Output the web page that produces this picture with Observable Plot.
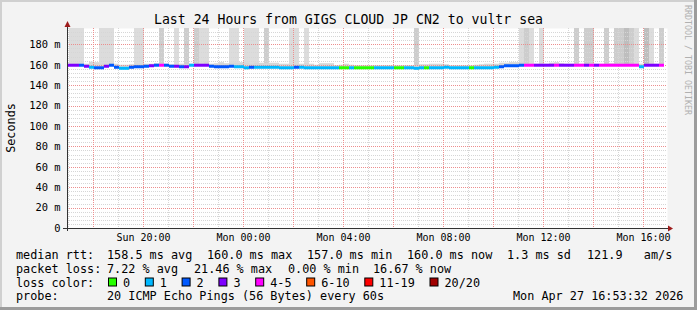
<!DOCTYPE html>
<html>
<head>
<meta charset="utf-8">
<script src="https://cdn.jsdelivr.net/npm/d3@7"></script>
<script src="https://cdn.jsdelivr.net/npm/@observablehq/plot@0.6"></script>
<style>
  html, body { margin: 0; padding: 0; background: #f3f3f3; }
  svg { display: block; }
</style>
</head>
<body>
<div id="chart"></div>
<script>
// ---------------- data (hours since Sunday 00:00) ----------------
const title = "Last 24 Hours from GIGS CLOUD JP CN2 to vultr sea";
const yAxisTitle = "Seconds";
const watermark = "RRDTOOL / TOBI OETIKER";

const timeDomain = [16.96, 40.96];      // Sun 16:57 .. Mon 16:57
const firstStep = 16.84;                // start of first (partial) 12-minute step
const stepHours = 0.2;

const xTickHours = [20, 24, 28, 32, 36, 40];
const xTickLabels = ["Sun 20:00", "Mon 00:00", "Mon 04:00", "Mon 08:00", "Mon 12:00", "Mon 16:00"];
const yTickValues = [0, 20, 40, 60, 80, 100, 120, 140, 160, 180];
const yTickLabels = ["0", "20 m", "40 m", "60 m", "80 m", "100 m", "120 m", "140 m", "160 m", "180 m"];
const yMax = 196;

// median rtt (ms) per 12-minute step
const medianRtt = [
  160, 160, 160, 160, 159, 158, 157.5, 157.5, 159, 160,
  158, 157, 157, 158, 158.5, 158.5, 159, 159.5, 160, 160,
  160, 159, 159, 158.5, 158.5, 160, 160, 160, 160, 159,
  158.5, 158.5, 158.5, 159, 158.5, 158.5, 157.5, 158, 158, 158,
  158, 158, 158, 157.5, 157.5, 157.5, 158, 158, 157.5, 157.5,
  157.5, 157.5, 157.5, 157.5, 157.5, 157.5, 157.5, 157.5, 157.5, 157.5,
  157.5, 157.5, 157.5, 157.5, 157.5, 157.5, 157.5, 157.5, 157.5, 157.5,
  157, 157.5, 157.5, 157.5, 157.5, 157.5, 158, 157.5, 157.5, 157.5,
  157.5, 157.5, 157.5, 157.5, 157.5, 157.5, 158, 158.5, 159.5, 159.5,
  159.5, 160, 160, 160, 160, 160, 160, 160, 160, 160,
  160, 160, 160, 160, 160, 160, 160, 160, 160, 160,
  160, 160, 160, 160, 160, 158.5, 160, 160, 160, 160
];
// loss class per step (index into lossColors)
const lossClass = [
  3, 3, 3, 2, 3, 1, 2, 2, 3, 2,
  2, 1, 1, 2, 2, 2, 2, 3, 2, 4,
  2, 2, 3, 2, 3, 1, 3, 3, 3, 2,
  2, 2, 2, 2, 1, 1, 1, 2, 1, 1,
  1, 1, 1, 1, 1, 1, 2, 1, 1, 1,
  1, 1, 1, 1, 1, 0, 0, 1, 0, 0,
  0, 0, 1, 1, 1, 1, 0, 0, 1, 1,
  1, 1, 0, 1, 1, 1, 1, 1, 1, 1,
  1, 0, 1, 1, 1, 1, 1, 2, 2, 2,
  2, 2, 4, 4, 3, 3, 3, 3, 4, 3,
  3, 3, 4, 4, 3, 4, 3, 4, 4, 4,
  4, 4, 4, 4, 4, 1, 3, 3, 3, 4
];
// smoke reaching the top of the graph (0 none, 1 light, 2 medium, 3 dark)
const tallSmoke = [
  0, 1, 1, 1, 0, 0, 0, 1, 1, 1,
  0, 0, 0, 0, 1, 1, 0, 0, 0, 2,
  0, 0, 1, 0, 2, 0, 2, 1, 1, 0,
  0, 0, 0, 1, 1, 0, 1, 1, 1, 0,
  2, 0, 0, 0, 0, 1, 1, 0, 1, 0,
  0, 0, 0, 0, 0, 0, 0, 0, 0, 0,
  0, 0, 0, 0, 0, 0, 0, 0, 0, 0,
  2, 0, 0, 0, 0, 0, 0, 0, 0, 0,
  0, 0, 0, 0, 0, 0, 0, 0, 0, 0,
  0, 1, 2, 1, 0, 1, 0, 0, 0, 0,
  0, 0, 2, 0, 2, 2, 0, 0, 2, 0,
  2, 2, 3, 2, 1, 0, 3, 1, 0, 2
];
// upper edge of the near-median smoke (ms)
const smokeHigh = [
  161, 161, 161, 161, 161, 163, 162.5, 161, 161, 161,
  161, 160, 160, 160.5, 161, 161, 161, 161, 161.5, 161,
  161, 160.5, 160.5, 161, 160.5, 161, 161, 161, 163, 161,
  161.5, 162.5, 161.5, 162, 162, 162.5, 162, 161, 162, 162,
  161.5, 162, 162, 161, 161, 161, 161, 161, 161.5, 161,
  160, 161.5, 161.5, 161.5, 159.5, 160, 161, 160, 159.5, 159.5,
  159.5, 159.5, 159.5, 159.5, 159.5, 159.5, 159.5, 159.5, 159.5, 159.5,
  159.5, 160.5, 160.5, 161, 161, 161, 160.5, 159.5, 159.5, 159.5,
  159.5, 159.5, 160, 160.5, 161, 161, 161, 162, 162, 162.5,
  162.5, 162.5, 161, 161, 161, 161, 161, 162, 162.5, 161.5,
  161, 161, 161, 161, 161, 161.5, 161, 161, 161, 161.5,
  161, 161, 161, 161, 161, 161, 161, 161, 161, 161
];

const lossColors = ["#26ff00", "#00b8ff", "#0059ff", "#7e00ff", "#ff00ff", "#ff5500", "#ff0000", "#a10000"];
const lossLabels = ["0", "1", "2", "3", "4-5", "6-10", "11-19", "20/20"];
const smokeShades = [null, "#dcdcdc", "#cdcdcd", "#bebebe"];

const rowLabels = ["median rtt:", "packet loss:", "loss color:", "probe:"];
const medianStats = ["158.5 ms avg", "160.0 ms max", "157.0 ms min", "160.0 ms now", "1.3 ms sd", "121.9   am/s"];
const lossStats = ["7.22 % avg", "21.46 % max", "0.00 % min", "16.67 % now"];
const probeText = "20 ICMP Echo Pings (56 Bytes) every 60s";
const stampText = "Mon Apr 27 16:53:32 2026";

// ---------------- build ----------------
const steps = medianRtt.map((m, i) => ({
  t0: firstStep + i * stepHours,
  t1: firstStep + (i + 1) * stepHours,
  median: m,
  color: lossColors[lossClass[i]],
  tall: tallSmoke[i],
  hi: smokeHigh[i]
}));
const tallSteps = steps.filter(d => d.tall > 0);

const hours = d3.range(17, 41);
const xMinor = hours.filter(h => h % 2 === 1);
const xMajor = hours.filter(h => h % 2 === 0);
const yMinor = d3.range(4, yMax, 4).filter(v => v % 20 !== 0);
const yMajor = yTickValues.filter(v => v > 0);
const yLabelOf = new Map(yTickValues.map((v, i) => [v, yTickLabels[i]]));
const xLabelOf = new Map(xTickHours.map((v, i) => [v, xTickLabels[i]]));

const FONT = "DejaVu Sans Mono";
const gridGray = "#d6d6d6";
const gridRed = "#ec8e8e";

const plot = Plot.plot({
  width: 697,
  height: 310,
  marginLeft: 67,
  marginRight: 30,
  marginTop: 28,
  marginBottom: 82,
  x: {domain: timeDomain},
  y: {domain: [0, yMax]},
  color: {type: "identity"},
  style: {fontFamily: FONT, fontSize: "10px", background: "#f3f3f3", color: "#000", overflow: "visible"},
  marks: [
    Plot.frame({fill: "#ffffff", stroke: "none"}),
    // smoke
    Plot.rect(tallSteps, {x1: "t0", x2: "t1", y1: "median", y2: yMax, fill: d => smokeShades[d.tall], clip: true}),
    Plot.rect(steps, {x1: "t0", x2: "t1", y1: "median", y2: "hi", fill: "#d6d6d6", clip: true}),
    // median line coloured by loss
    Plot.ruleY(steps, {x1: "t0", x2: "t1", y: "median", stroke: "color", strokeWidth: 3, clip: true}),
    // axes
    Plot.axisY({ticks: yTickValues, tickSize: 0, tickPadding: 7, tickFormat: v => yLabelOf.get(v), fontSize: 10.4, fill: "#000"}),
    Plot.axisX({ticks: xTickHours, tickSize: 0, tickPadding: 5, tickFormat: v => xLabelOf.get(v), fill: "#000"})
  ]
});

document.getElementById("chart").appendChild(plot);

const svg = d3.select(plot);
const xs = plot.scale("x"), ys = plot.scale("y");
const x0 = xs.apply(timeDomain[0]), x1 = xs.apply(timeDomain[1]);
const yBase = ys.apply(0), yTop = ys.apply(yMax);

// grid (pixel-snapped, drawn between smoke and the median line)
const lineGroup = plot.querySelector('g[aria-label="rule"]');
const grid = svg.insert("g", () => lineGroup).attr("shape-rendering", "crispEdges");
function hLines(vals, color) {
  vals.forEach(v => {
    const y = Math.round(ys.apply(v)) + 0.5;
    grid.append("line").attr("x1", x0).attr("x2", x1).attr("y1", y).attr("y2", y)
      .attr("stroke", color).attr("stroke-dasharray", "1,1");
  });
}
function vLines(vals, color) {
  vals.forEach(v => {
    const x = Math.round(xs.apply(v)) + 0.5;
    grid.append("line").attr("x1", x).attr("x2", x).attr("y1", yTop).attr("y2", yBase)
      .attr("stroke", color).attr("stroke-dasharray", "1,1");
  });
}
hLines(yMinor, gridGray);
vLines(xMinor, gridGray);
hLines(yMajor, gridRed);
vLines(xMajor, gridRed);

// axis lines and arrows
svg.append("line").attr("x1", x0 - 4).attr("x2", x1 + 1).attr("y1", yBase + 0.5).attr("y2", yBase + 0.5)
  .attr("stroke", "#333").attr("stroke-width", 1);
svg.append("line").attr("x1", x0 + 0.5).attr("x2", x0 + 0.5).attr("y1", yBase + 3).attr("y2", yTop - 4)
  .attr("stroke", "#333").attr("stroke-width", 1);
svg.append("path").attr("d", `M${x1 + 1},${yBase - 2.5}L${x1 + 6},${yBase + 0.5}L${x1 + 1},${yBase + 3.5}Z`).attr("fill", "#9e1c1c");
svg.append("path").attr("d", `M${x0 - 2.5},${yTop - 1}L${x0 + 0.5},${yTop - 7}L${x0 + 3.5},${yTop - 1}Z`).attr("fill", "#9e1c1c");

// border shading
svg.append("rect").attr("x", 0).attr("y", 0).attr("width", 697).attr("height", 2).attr("fill", "#d0d0d0");
svg.append("rect").attr("x", 0).attr("y", 0).attr("width", 2).attr("height", 310).attr("fill", "#d0d0d0");
svg.append("rect").attr("x", 694).attr("y", 0).attr("width", 3).attr("height", 310).attr("fill", "#9c9c9c");
svg.append("rect").attr("x", 0).attr("y", 307).attr("width", 697).attr("height", 3).attr("fill", "#9c9c9c");

// texts
function addText(x, y, s, size, opts = {}) {
  const t = svg.append("text").attr("x", x).attr("y", y)
    .attr("font-family", FONT).attr("font-size", size)
    .attr("fill", opts.fill || "#000")
    .attr("text-anchor", opts.anchor || "start")
    .attr("xml:space", "preserve").style("white-space", "pre")
    .text(s);
  if (opts.transform) t.attr("transform", opts.transform).attr("x", 0).attr("y", 0);
  return t;
}
addText(348.5, 24, title, 13.2, {anchor: "middle"});
addText(0, 0, yAxisTitle, 11.8, {anchor: "middle", transform: `translate(14.5,${(yBase + yTop) / 2}) rotate(-90)`});
addText(0, 0, watermark, 8.3, {fill: "#b0b0b0", transform: "translate(685,5) rotate(90)"});

// legend
const LF = 11.8;
const rowY = [258.5, 272.5, 286.5, 300];
rowLabels.forEach((s, i) => addText(16, rowY[i], s, LF));
const medianX = [107, 207, 307, 407, 507, 587];
medianStats.forEach((s, i) => addText(medianX[i], rowY[0], s, LF));
const lossX = [107, 194, 288, 373];
lossStats.forEach((s, i) => addText(lossX[i], rowY[1], s, LF));
const charW = 7.1;
let bx = 108;
lossLabels.forEach((lab, i) => {
  svg.append("rect").attr("x", bx + 0.5).attr("y", rowY[2] - 8.5).attr("width", 8).attr("height", 8)
    .attr("fill", lossColors[i]).attr("stroke", "#000").attr("stroke-width", 1);
  addText(bx + 15, rowY[2], lab, LF);
  bx = bx + 15 + lab.length * charW + 14.7;
});
addText(107, rowY[3], probeText, LF);
addText(513, rowY[3], stampText, LF);
</script>
</body>
</html>
